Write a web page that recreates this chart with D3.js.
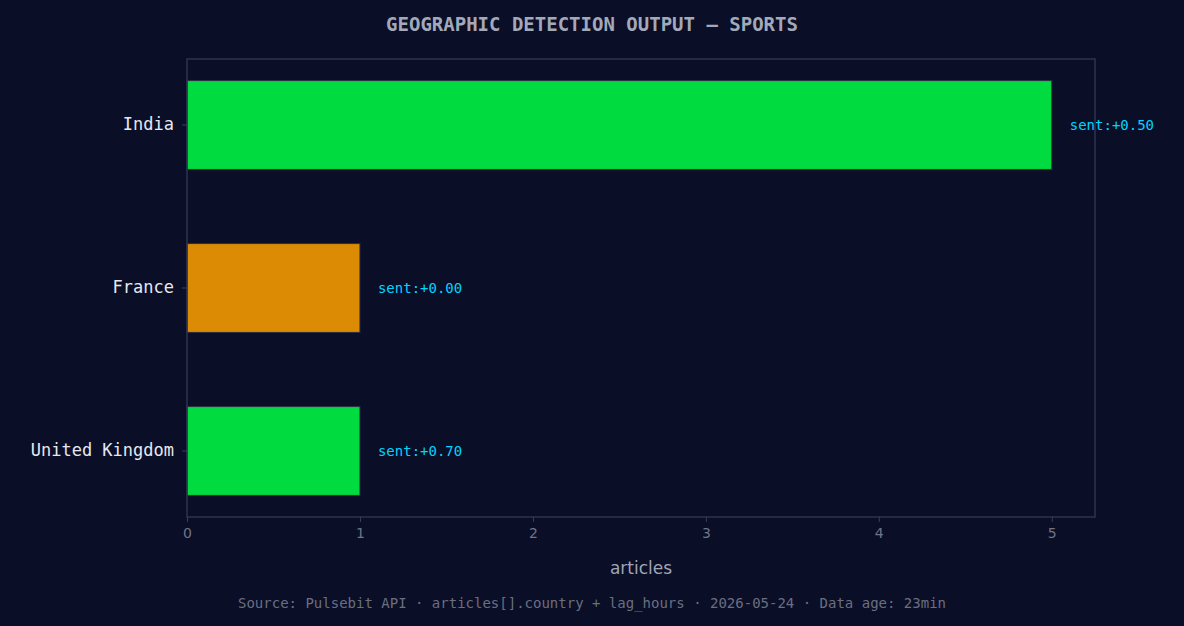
<!DOCTYPE html>
<html><head><meta charset="utf-8">
<script src="https://cdn.jsdelivr.net/npm/d3@7"></script>
<style>
body{margin:0;background:#0a0e27;}
</style></head><body><svg id="c" width="1184" height="626"></svg>
<script>
const countries = ["India", "France", "United Kingdom"];
const articles = [5, 1, 1];
const sentiment = ["+0.50", "+0.00", "+0.70"];
const barColors = ["#00dc3f", "#db8b04", "#00dc3f"];
const xTicks = [0, 1, 2, 3, 4, 5];

const svg = d3.select("#c");
const m = { top: 59, right: 89, bottom: 109, left: 187 };
const W = 1184, H = 626;
svg.append("rect").attr("width", W).attr("height", H).attr("fill", "#0a0e27");
const x = d3.scaleLinear().domain([0, 5.25]).range([m.left, W - m.right]);
const y = d3.scaleBand().domain(countries).range([m.top, H - m.bottom]).paddingInner(0.455).paddingOuter(0.1325);

svg.selectAll(".bar").data(countries).join("rect")
  .attr("x", x(0)).attr("y", d => y(d))
  .attr("width", (d, i) => x(articles[i]) - x(0)).attr("height", y.bandwidth())
  .attr("fill", (d, i) => barColors[i]).attr("stroke", "#2a2f45").attr("stroke-width", 1);
svg.selectAll(".lbl").data(countries).join("text")
  .attr("x", (d, i) => x(articles[i]) + 18).attr("y", d => y(d) + y.bandwidth() / 2 + 5)
  .attr("fill", "#00d4ff").attr("font-family", "DejaVu Sans Mono").attr("font-size", 14)
  .text((d, i) => "sent:" + sentiment[i]);

svg.append("rect").attr("x", m.left).attr("y", m.top).attr("width", W - m.right - m.left)
  .attr("height", H - m.bottom - m.top).attr("fill", "none").attr("stroke", "#2e3350").attr("stroke-width", 1.5);

const ax = svg.append("g").attr("transform", `translate(0,${H - m.bottom})`)
  .call(d3.axisBottom(x).tickValues(xTicks).tickFormat(d3.format("d")).tickSize(5).tickPadding(6));
ax.select(".domain").remove();
ax.selectAll("line").attr("stroke", "#3a3f58");
ax.selectAll("text").attr("fill", "#707585").attr("font-family", "DejaVu Sans").attr("font-size", 14);

const ay = svg.append("g").attr("transform", `translate(${m.left},0)`)
  .call(d3.axisLeft(y).tickSize(5).tickPadding(8));
ay.select(".domain").remove();
ay.selectAll("line").attr("stroke", "#3a3f58");
ay.selectAll("text").attr("fill", "#e6e8f0").attr("font-family", "DejaVu Sans Mono").attr("font-size", 17);

svg.append("text").attr("x", (m.left + W - m.right) / 2).attr("y", 574).attr("text-anchor", "middle")
  .attr("fill", "#a0a5b5").attr("font-family", "DejaVu Sans").attr("font-size", 17).text("articles");
svg.append("text").attr("x", 592).attr("y", 31).attr("text-anchor", "middle")
  .attr("fill", "#a3a9b9").attr("font-family", "DejaVu Sans Mono").attr("font-weight", "bold").attr("font-size", 19)
  .text("GEOGRAPHIC DETECTION OUTPUT — SPORTS");
svg.append("text").attr("x", 592).attr("y", 608).attr("text-anchor", "middle")
  .attr("fill", "#6a6f80").attr("font-family", "DejaVu Sans Mono").attr("font-size", 14)
  .text("Source: Pulsebit API · articles[].country + lag_hours · 2026-05-24 · Data age: 23min");
</script></body></html>
